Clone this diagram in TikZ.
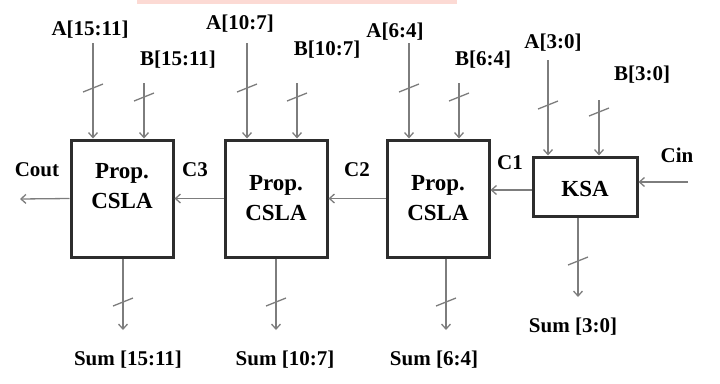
\documentclass[tikz,border=0pt]{standalone}
\usepackage{fontspec}
\setmainfont{Liberation Serif}
\usetikzlibrary{arrows.meta,calc}

\definecolor{wiregray}{RGB}{125,125,125}
\definecolor{boxgray}{RGB}{45,45,45}
\definecolor{capbar}{RGB}{252,218,212}

\begin{document}
\begin{tikzpicture}[x=1pt,y=-1pt,
    csla/.style={draw=boxgray,line width=3pt,minimum width=102pt,minimum height=117pt,inner sep=0pt},
    ksabox/.style={draw=boxgray,line width=3pt,minimum width=104pt,minimum height=59pt,inner sep=0pt},
    boxtext/.style={font=\fontsize{23}{30}\selectfont\bfseries,align=center,inner sep=0pt},
    lbl/.style={font=\fontsize{21}{24}\selectfont\bfseries,inner sep=0pt},
    sig/.style={draw=wiregray,line width=1.3pt,-{Straight Barb[length=5pt,width=9pt]}},
    tick/.style={draw=wiregray,line width=1.3pt}]
  \useasboundingbox (0,0) rectangle (720,383);
  \fill[capbar] (137,0) rectangle (457,4);

  % adder blocks
  \node[csla] (p1) at (122,198.5) {};
  \node[csla] (p2) at (276,198.5) {};
  \node[csla] (p3) at (438,198.5) {};
  \node[ksabox] (ksa) at (585,186.5) {};

  \node[boxtext] (t1) at (122,186) {Prop.\\CSLA};
  \node[boxtext] (t2) at (276,198) {Prop.\\CSLA};
  \node[boxtext] (t3) at (438,198) {Prop.\\CSLA};
  \node[boxtext] (t4) at (585,189) {KSA};

  % operand inputs
  \node[lbl] (la1) at (90,30) {A[15:11]};
  \node[lbl] (lb1) at (178,60) {B[15:11]};
  \node[lbl] (la2) at (240,24) {A[10:7]};
  \node[lbl] (lb2) at (327,50) {B[10:7]};
  \node[lbl] (la3) at (395,32) {A[6:4]};
  \node[lbl] (lb3) at (483,60) {B[6:4]};
  \node[lbl] (la4) at (553,43) {A[3:0]};
  \node[lbl] (lb4) at (642,75) {B[3:0]};

  \coordinate (a1) at (93,43);
  \coordinate (b1) at (144,83);
  \coordinate (a2) at (247,43);
  \coordinate (b2) at (297,83);
  \coordinate (a3) at (409,43);
  \coordinate (b3) at (459,83);
  \coordinate (a4) at (548,60);
  \coordinate (b4) at (599,100);

  \draw[sig] (a1) -- (a1 |- p1.north);
  \draw[sig] (b1) -- (b1 |- p1.north);
  \draw[sig] (a2) -- (a2 |- p2.north);
  \draw[sig] (b2) -- (b2 |- p2.north);
  \draw[sig] (a3) -- (a3 |- p3.north);
  \draw[sig] (b3) -- (b3 |- p3.north);
  \draw[sig] (a4) -- (a4 |- ksa.north);
  \draw[sig] (b4) -- (b4 |- ksa.north);

  \draw[tick] (93,88) +(-10,4) -- +(10,-4);
  \draw[tick] (144,97) +(-10,4) -- +(10,-4);
  \draw[tick] (247,88) +(-10,4) -- +(10,-4);
  \draw[tick] (297,97) +(-10,4) -- +(10,-4);
  \draw[tick] (409,88) +(-10,4) -- +(10,-4);
  \draw[tick] (459,97) +(-10,4) -- +(10,-4);
  \draw[tick] (548,105) +(-10,4) -- +(10,-4);
  \draw[tick] (599,112) +(-10,4) -- +(10,-4);

  % carry chain
  \coordinate (cin) at (688,182);
  \coordinate (cout) at (20,199);
  \draw[sig] (cin) -- (cin -| ksa.east);
  \draw[sig] ([yshift=-3.5pt]ksa.west) -- ([yshift=-3.5pt]ksa.west -| p3.east);
  \draw[sig] (p3.west) -- (p2.east);
  \draw[sig] (p2.west) -- (p1.east);
  \draw[sig] (p1.west) -- (cout);

  \node[lbl] (lcin) at (677,155) {Cin};
  \node[lbl] (lc1) at (510,163) {C1};
  \node[lbl] (lc2) at (357,170) {C2};
  \node[lbl] (lc3) at (195,170) {C3};
  \node[lbl] (lcout) at (37,170) {Cout};

  % sum outputs
  \coordinate (s1) at (123,330);
  \coordinate (s2) at (276,330);
  \coordinate (s3) at (446,330);
  \coordinate (s4) at (578,297);

  \draw[sig] (s1 |- p1.south) -- (s1);
  \draw[sig] (s2 |- p2.south) -- (s2);
  \draw[sig] (s3 |- p3.south) -- (s3);
  \draw[sig] (s4 |- ksa.south) -- (s4);

  \draw[tick] (123,302) +(-10,4) -- +(10,-4);
  \draw[tick] (276,302) +(-10,4) -- +(10,-4);
  \draw[tick] (446,302) +(-10,4) -- +(10,-4);
  \draw[tick] (578,261) +(-10,4) -- +(10,-4);

  \node[lbl] (ls1) at (128,360) {Sum [15:11]};
  \node[lbl] (ls2) at (285,360) {Sum [10:7]};
  \node[lbl] (ls3) at (434,360) {Sum [6:4]};
  \node[lbl] (ls4) at (573,327) {Sum [3:0]};
\end{tikzpicture}
\end{document}
